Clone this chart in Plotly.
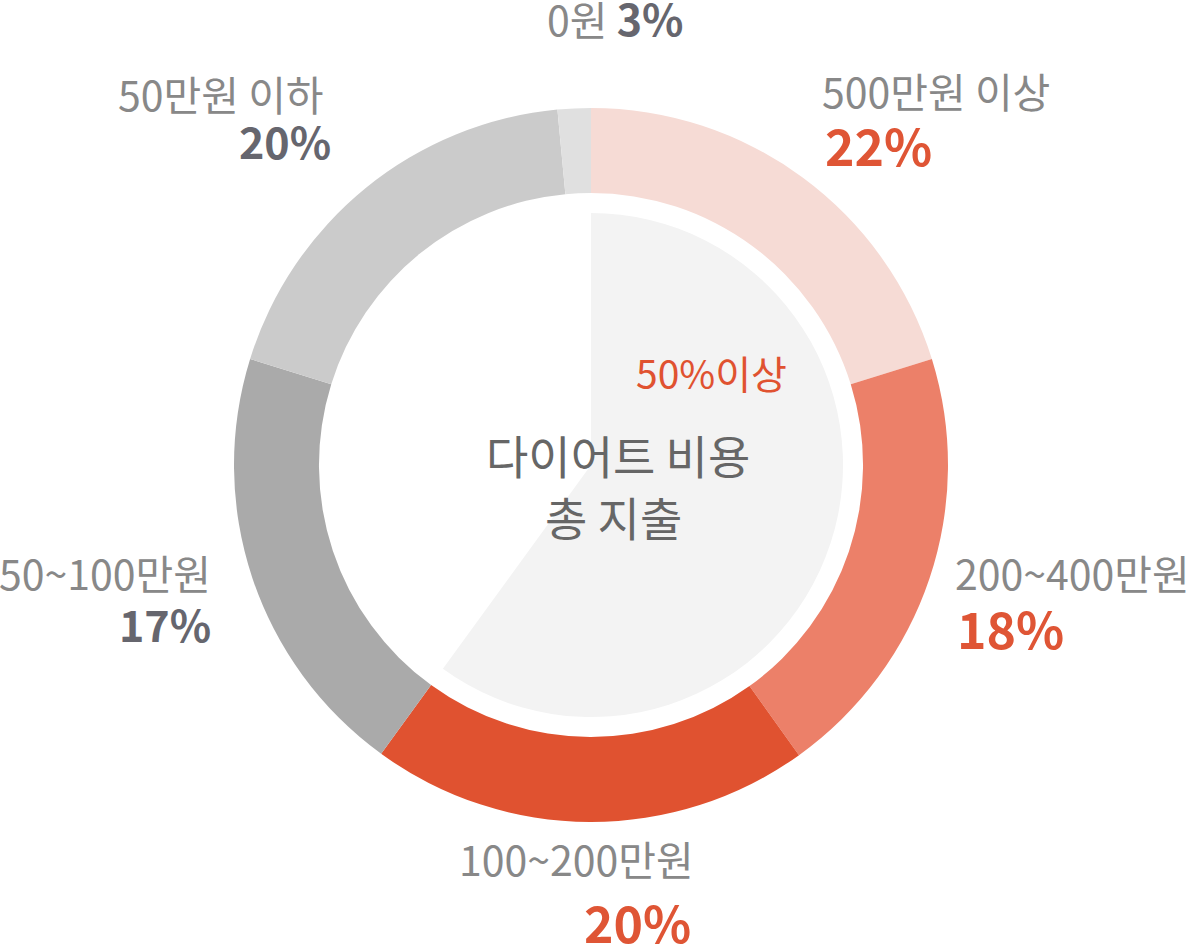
import plotly.graph_objects as go

categories = ['500만원 이상', '200~400만원', '100~200만원', '50~100만원', '50만원 이하', '0원']
# percentages printed in the labels
values = [22, 18, 20, 17, 20, 3]
# arc shares as actually drawn in the picture (measured from the slice boundaries)
arc_shares = [20.2, 19.9, 19.9, 19.8, 18.7, 1.5]
inner_labels = ['50%이상', '기타']
inner_values = [60, 40]
center_title = ['다이어트 비용', '총 지출']

W, H = 1188, 948
ring_colors = ['#f6dbd5', '#ec8069', '#e05230', '#aaaaaa', '#cbcbcb', '#e0e0e0']
value_colors = ['#df5535', '#df5535', '#df5535', '#66666e', '#66666e', '#66666e']
value_sizes = [50, 50, 50, 43, 43, 43]
FONT = 'Noto Sans CJK KR'

cx, cy = 591, 465
R_out, R_in = 357, 252


def dom(r):
    return dict(x=[(cx - r) / W, (cx + r) / W], y=[(H - cy - r) / H, (H - cy + r) / H])


fig = go.Figure()
fig.add_trace(go.Pie(
    labels=categories, values=arc_shares, hole=0.762, sort=False, direction='clockwise',
    rotation=0, marker=dict(colors=ring_colors, line=dict(width=0)),
    textinfo='none', hoverinfo='skip', domain=dom(R_out), showlegend=False))
fig.add_trace(go.Pie(
    labels=inner_labels, values=inner_values, sort=False, direction='clockwise',
    rotation=0, marker=dict(colors=['#f3f3f3', 'rgba(255,255,255,0)'], line=dict(width=0)),
    textinfo='none', hoverinfo='skip', domain=dom(R_in), showlegend=False))


def px(x, y):
    return x / W, 1 - y / H


# label placement (pixel anchors): (x, y, xanchor) for name line and value line
name_pos = [(820, 90, 'left'), (953, 572, 'left'), (576, 858, 'center'),
            (213, 572, 'right'), (326, 93, 'right')]
value_pos = [(823, 144, 'left'), (955, 627, 'left'), (693, 921, 'right'),
             (213, 623, 'right'), (333, 140, 'right')]

ann = []
for i in range(5):
    x, y, xa = name_pos[i]
    ax, ay = px(x, y)
    ann.append(dict(x=ax, y=ay, xref='paper', yref='paper', xanchor=xa, yanchor='middle',
                    text=categories[i], showarrow=False,
                    font=dict(family=FONT, size=41, color='#888888')))
    x, y, xa = value_pos[i]
    ax, ay = px(x, y)
    ann.append(dict(x=ax, y=ay, xref='paper', yref='paper', xanchor=xa, yanchor='middle',
                    text='<b>%d%%</b>' % values[i], showarrow=False,
                    font=dict(family=FONT, size=value_sizes[i], color=value_colors[i])))

# 0원 label on one line
ax, ay = px(615, 17)
ann.append(dict(x=ax, y=ay, xref='paper', yref='paper', xanchor='center', yanchor='middle',
                text='%s <span style="font-size:43px;color:%s"><b>%d%%</b></span>' % (categories[5], value_colors[5], values[5]),
                showarrow=False, font=dict(family=FONT, size=41, color='#888888')))

# inner labels
ax, ay = px(711, 372)
ann.append(dict(x=ax, y=ay, xref='paper', yref='paper', xanchor='center', yanchor='middle',
                text=inner_labels[0], showarrow=False,
                font=dict(family=FONT, size=39, color='#e05230')))
ax, ay = px(618, 454)
ann.append(dict(x=ax, y=ay, xref='paper', yref='paper', xanchor='center', yanchor='middle',
                text=center_title[0], showarrow=False,
                font=dict(family=FONT, size=46, color='#666666')))
ax, ay = px(613, 516)
ann.append(dict(x=ax, y=ay, xref='paper', yref='paper', xanchor='center', yanchor='middle',
                text=center_title[1], showarrow=False,
                font=dict(family=FONT, size=46, color='#666666')))

fig.update_layout(width=W, height=H, margin=dict(l=0, r=0, t=0, b=0),
                  paper_bgcolor='white', plot_bgcolor='white', annotations=ann)
fig.write_html('out.html', config={'displayModeBar': False},
               post_script="document.body.style.margin='0';document.body.style.overflow='hidden';")
